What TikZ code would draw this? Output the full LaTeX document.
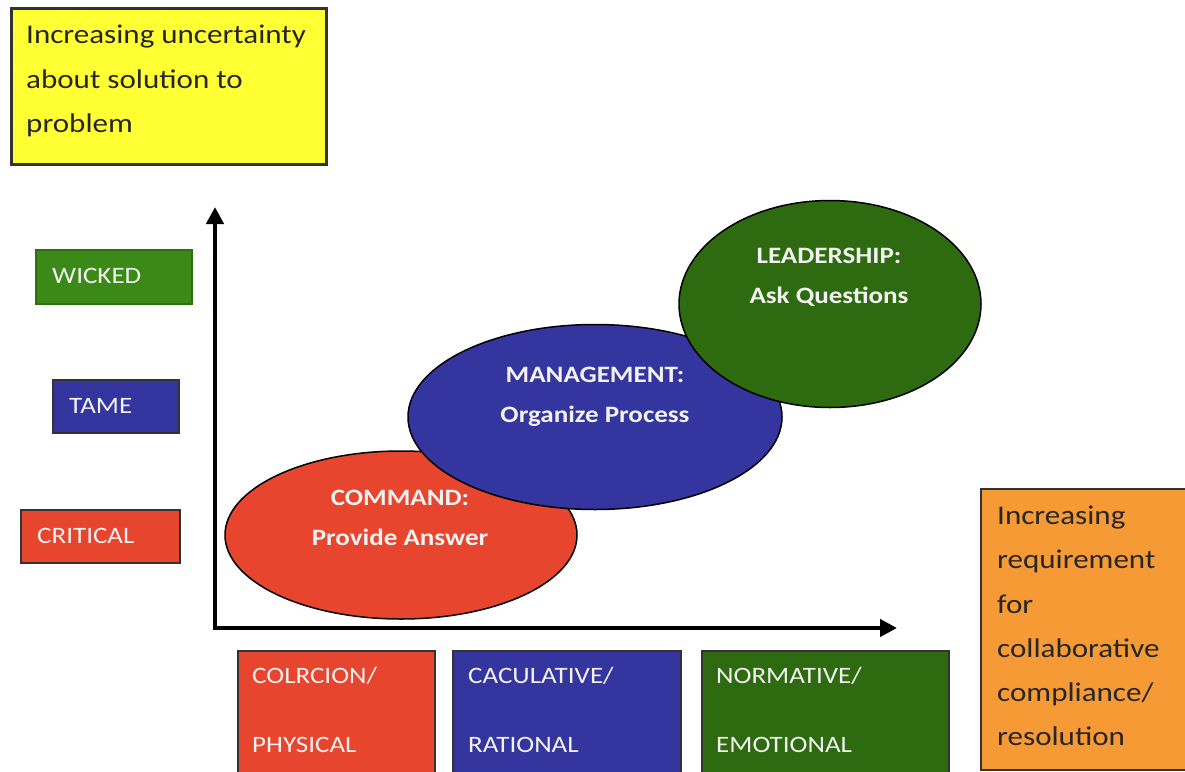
\documentclass[tikz,border=0pt]{standalone}
\usepackage{fontspec}
\setmainfont{Carlito}[FakeStretch=1.15]
\usetikzlibrary{shapes.geometric,arrows.meta}
\definecolor{cred}{HTML}{E8452E}
\definecolor{cblue}{HTML}{3535A0}
\definecolor{cgreenE}{HTML}{2D6A10}
\definecolor{cgreenB}{HTML}{3B8A18}
\definecolor{cyel}{HTML}{FFFF33}
\definecolor{corange}{HTML}{F59A35}
\definecolor{ctxt}{HTML}{F2F2F2}
\begin{document}
\begin{tikzpicture}[x=1pt,y=-1pt,
  boxr/.style={draw=black!80, line width=1.5pt, inner sep=0pt, anchor=north west},
  ell/.style={ellipse, draw=black, line width=1.5pt, inner sep=0pt},
  elltext/.style={text=ctxt, font=\bfseries\fontsize{23.5}{40}\selectfont, align=center},
  lbl/.style={text=ctxt, font=\fontsize{23.5}{26}\selectfont, anchor=west, inner sep=0pt},
  bigtext/.style={font=\fontsize{27}{44.5}\selectfont, align=left, anchor=north west, inner sep=0pt, text=black!85},
  axis/.style={line width=4.5pt, -{Triangle[length=17pt,width=17pt]}}]
\useasboundingbox (0,0) rectangle (1185,771);
\fill[white] (0,0) rectangle (1185,771);
% top yellow box
\node[boxr, fill=cyel, line width=3pt, minimum width=315, minimum height=156] (yel) at (10,7) {};
\node[bigtext] (yeltxt) at (26,25) {Increasing uncertainty\\about solution to\\problem};
% left category boxes
\node[boxr, fill=cgreenB, draw=cgreenB!80!black, minimum width=156, minimum height=54] (wick) at (35,249) {};
\node[lbl] (wickt) at (52,276) {WICKED};
\node[boxr, fill=cblue, minimum width=126, minimum height=53] (tame) at (52,379) {};
\node[lbl] (tamet) at (69,406) {TAME};
\node[boxr, fill=cred, minimum width=159, minimum height=53] (crit) at (20,509) {};
\node[lbl] (critt) at (37,536) {CRITICAL};
% ellipses
\node[ell, fill=cred, minimum width=352, minimum height=168] (cmd) at (401,535) {};
\node[ell, fill=cblue, minimum width=374, minimum height=185] (mgt) at (595,417) {};
\node[ell, fill=cgreenE, minimum width=302, minimum height=207] (lead) at (830,304) {};
\node[elltext] (cmdt) at (400,518) {COMMAND:\\Provide Answer};
\node[elltext] (mgtt) at (595,397) {MANAGEMENT:\\Organize Process};
\node[elltext] (leadt) at (829,277) {LEADERSHIP:\\Ask Questions};
% axes
\coordinate (org) at (215,628);
\coordinate (ytop) at (215,207);
\coordinate (xend) at (897,628);
\draw[axis] ([yshift=-2.25pt]org) -- (ytop);
\draw[axis] ([xshift=-2.25pt]org) -- (xend);
% bottom boxes
\node[boxr, fill=cred, minimum width=197, minimum height=130] (coer) at (237,650) {};
\node[lbl] (coer1) at (252,676) {COLRCION/};
\node[lbl] (coer2) at (252,745) {PHYSICAL};
\node[boxr, fill=cblue, minimum width=228, minimum height=130] (calc) at (452,650) {};
\node[lbl] (calc1) at (468,676) {CACULATIVE/};
\node[lbl] (calc2) at (468,745) {RATIONAL};
\node[boxr, fill=cgreenE, minimum width=247, minimum height=130] (norm) at (701,650) {};
\node[lbl] (norm1) at (716,676) {NORMATIVE/};
\node[lbl] (norm2) at (716,745) {EMOTIONAL};
% orange box
\node[boxr, fill=corange, line width=2pt, minimum width=215, minimum height=281] (ora) at (980,488) {};
\node[bigtext, font=\fontsize{27}{44.2}\selectfont] (orat) at (997,506) {Increasing\\requirement\\for\\collaborative\\compliance/\\resolution};
\end{tikzpicture}
\end{document}
